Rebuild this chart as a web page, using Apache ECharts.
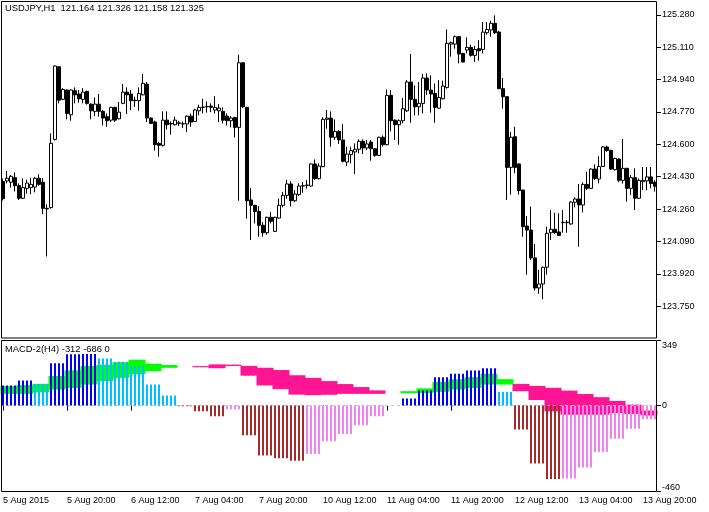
<!DOCTYPE html>
<html><head><meta charset="utf-8">
<script src="https://cdn.jsdelivr.net/npm/echarts@6/dist/echarts.min.js"></script>
<style>html,body{margin:0;padding:0;background:#fff}#c{width:709px;height:512px}</style>
</head><body><div id="c"></div>
<script>
const open=[
124.405,124.408,124.401,124.425,124.383,124.317,124.369,124.373,124.376,124.422,
124.401,124.264,124.268,124.626,125.007,124.836,124.885,124.755,124.881,124.864,
124.836,124.878,124.811,124.773,124.811,124.773,124.745,124.727,124.794,124.734,
124.815,124.874,124.864,124.832,124.829,124.860,124.916,124.738,124.717,124.605,
124.595,124.727,124.710,124.703,124.710,124.707,124.707,124.748,124.720,124.776,
124.794,124.797,124.801,124.780,124.776,124.773,124.748,124.724,124.741,124.689,
125.028,124.794,124.308,124.280,124.248,124.175,124.136,124.217,124.143,124.213,
124.280,124.332,124.392,124.304,124.336,124.381,124.385,124.381,124.497,124.420,
124.483,124.731,124.738,124.637,124.668,124.623,124.507,124.546,124.560,124.574,
124.616,124.581,124.612,124.577,124.542,124.637,124.598,124.857,124.727,124.703,
124.724,124.776,124.927,124.836,124.797,124.815,124.948,124.885,124.867,124.790,
124.839,124.899,125.126,125.126,125.165,125.077,125.095,125.109,125.067,125.102,
125.098,125.186,125.200,125.235,125.189,124.892,124.850,124.479,124.640,124.497,
124.360,124.171,124.150,124.004,123.846,123.867,123.955,124.136,124.154,124.140,
124.189,124.189,124.182,124.296,124.313,124.282,124.390,124.369,124.470,124.418,
124.484,124.586,124.568,124.467,124.523,124.411,124.474,124.369,124.425,124.317,
124.404,124.408,124.429,124.401];
const high=[
124.420,124.460,124.439,124.453,124.395,124.422,124.415,124.425,124.429,124.443,
124.422,124.285,124.657,125.014,125.010,124.895,124.888,124.888,124.899,124.885,
124.895,124.881,124.815,124.846,124.864,124.780,124.762,124.797,124.797,124.822,
124.916,124.899,124.885,124.850,124.899,124.969,124.927,124.741,124.724,124.612,
124.773,124.773,124.720,124.745,124.724,124.720,124.752,124.762,124.787,124.808,
124.839,124.825,124.815,124.853,124.811,124.794,124.762,124.748,124.745,125.070,
125.031,124.797,124.371,124.282,124.276,124.192,124.220,124.245,124.220,124.315,
124.350,124.413,124.406,124.360,124.395,124.402,124.413,124.500,124.521,124.500,
124.742,124.780,124.773,124.731,124.675,124.707,124.588,124.588,124.605,124.626,
124.626,124.623,124.623,124.580,124.640,124.647,124.888,124.885,124.730,124.731,
124.843,124.937,125.074,124.909,124.927,124.969,124.972,124.962,124.920,124.937,
124.934,125.203,125.140,125.172,125.168,125.080,125.161,125.123,125.116,125.147,
125.242,125.242,125.249,125.277,125.196,124.948,124.852,124.665,124.692,124.500,
124.362,124.224,124.273,124.077,123.941,123.958,124.168,124.255,124.241,124.238,
124.255,124.203,124.301,124.322,124.392,124.400,124.456,124.474,124.495,124.537,
124.590,124.593,124.572,124.530,124.526,124.628,124.477,124.439,124.474,124.421,
124.481,124.481,124.481,124.411];
const low=[
124.305,124.395,124.373,124.352,124.308,124.313,124.341,124.338,124.348,124.383,
124.233,124.011,124.262,124.620,124.815,124.832,124.731,124.724,124.815,124.818,
124.815,124.808,124.731,124.748,124.745,124.699,124.692,124.717,124.717,124.731,
124.811,124.759,124.780,124.797,124.776,124.857,124.717,124.707,124.567,124.535,
124.588,124.678,124.651,124.699,124.696,124.685,124.664,124.692,124.717,124.752,
124.762,124.766,124.769,124.762,124.717,124.710,124.699,124.689,124.636,124.304,
124.790,124.210,124.098,124.185,124.115,124.115,124.126,124.185,124.140,124.210,
124.269,124.315,124.273,124.297,124.329,124.346,124.367,124.378,124.413,124.416,
124.480,124.682,124.588,124.623,124.602,124.505,124.486,124.500,124.444,124.553,
124.549,124.570,124.514,124.535,124.539,124.588,124.595,124.668,124.623,124.598,
124.710,124.769,124.713,124.752,124.752,124.762,124.860,124.766,124.713,124.787,
124.836,124.892,125.060,125.102,125.025,125.030,125.077,125.060,125.032,125.039,
125.077,125.175,125.165,125.179,124.892,124.787,124.308,124.336,124.448,124.336,
124.115,123.916,123.993,123.832,123.815,123.787,123.916,124.098,124.129,124.119,
124.136,124.136,124.178,124.269,124.063,124.243,124.360,124.366,124.413,124.395,
124.481,124.561,124.467,124.463,124.401,124.394,124.299,124.334,124.255,124.313,
124.360,124.359,124.369,124.352];
const close=[
124.315,124.422,124.432,124.383,124.317,124.373,124.397,124.390,124.422,124.390,
124.264,124.261,124.605,125.011,124.832,124.888,124.762,124.885,124.860,124.839,
124.874,124.815,124.776,124.811,124.773,124.738,124.724,124.794,124.727,124.769,
124.874,124.860,124.829,124.829,124.867,124.920,124.738,124.710,124.598,124.595,
124.727,124.703,124.707,124.727,124.713,124.708,124.748,124.717,124.780,124.794,
124.796,124.799,124.794,124.794,124.790,124.727,124.724,124.738,124.689,125.028,
124.797,124.304,124.280,124.248,124.175,124.136,124.217,124.196,124.217,124.280,
124.332,124.392,124.304,124.339,124.381,124.383,124.386,124.497,124.420,124.486,
124.731,124.738,124.637,124.668,124.623,124.511,124.549,124.567,124.574,124.616,
124.581,124.602,124.577,124.542,124.637,124.598,124.857,124.724,124.703,124.724,
124.787,124.927,124.836,124.797,124.815,124.948,124.885,124.864,124.794,124.846,
124.906,125.130,125.133,125.165,125.074,125.032,125.109,125.067,125.098,125.091,
125.189,125.203,125.235,125.186,124.892,124.850,124.479,124.637,124.479,124.357,
124.168,124.150,124.004,123.846,123.867,123.955,124.133,124.154,124.136,124.122,
124.191,124.191,124.297,124.313,124.282,124.390,124.369,124.470,124.421,124.484,
124.586,124.568,124.470,124.526,124.411,124.474,124.369,124.425,124.317,124.411,
124.411,124.429,124.394,124.380];

// H4 values of the MACD indicator (each covers 4 H1 bars)
const histH4=[107,134,116,226,274,276,252,234,211,113,54,-4,-30,-57,-20,-159,-266,-281,-295,-259,
-191,-152,-105,-57,0,38,81,152,170,188,199,73,-127,-309,-392,-390,-331,-248,-177,-123,-73];
const macdH4=[104,109,116,158,188,211,217,231,245,224,217,null,205,200,212,160,108,88,59,56,
58,63,63,63,null,77,92,127,140,152,170,141,77,30,-30,-48,-48,-48,-40,-45,-52];
const signalH4=[63,63,72,86,95,113,131,149,168,184,202,null,211,220,219,212,202,190,162,148,
131,115,99,81,null,66,68,74,86,95,113,113,116,105,95,80,62,45,25,5,-27];

const priceTicks=[123.75,123.92,124.09,124.26,124.43,124.60,124.77,124.94,125.11,125.28];
const macdTicks=[349,0,-460];
const timeLabels=['5 Aug 2015','5 Aug 20:00','6 Aug 12:00','7 Aug 04:00','7 Aug 20:00','10 Aug 12:00','11 Aug 04:00','11 Aug 20:00','12 Aug 12:00','13 Aug 04:00','13 Aug 20:00'];
const mainTitle='USDJPY,H1  121.164 121.326 121.158 121.325';
const subTitle='MACD-2(H4) -312 -686 0';

const N=open.length;
const cats=open.map((_,i)=>String(i));
const candles=open.map((o,i)=>[o,close[i],low[i],high[i]]);
function perBar(a){const r=[];a.forEach(v=>{for(let k=0;k<4;k++)r.push(v);});return r.slice(0,N);}
const hist=perBar(histH4), macd=perBar(macdH4), signal=perBar(signalH4);
const C={blue:'#0000ff',sky:'#00bfff',brown:'#a52a2a',violet:'#ee82ee',lime:'#00ff00',pink:'#ff1493'};
const histData=hist.map((v,i)=>{
  const prev=i>=4?hist[i-4]:-Infinity;
  let col;
  if(v>=0) col=v>=prev?C.blue:C.sky; else col=v<prev?C.brown:C.violet;
  return {value:v,itemStyle:{color:col}};
});
const greenBand=macd.map((m,i)=>(m!=null&&m>signal[i])?[signal[i],m,signal[i],m]:'-');
const pinkBand=macd.map((m,i)=>(m!=null&&m<=signal[i])?[m,signal[i],m,signal[i]]:'-');

const FONT='Liberation Sans';
const txt={fontSize:9,color:'#000',fontFamily:FONT};
const ttl={fontSize:9.4,color:'#000',fontFamily:FONT,fontWeight:'normal'};
const chart=echarts.init(document.getElementById('c'),null,{renderer:'canvas'});
chart.setOption({
  animation:false,
  backgroundColor:'#fff',
  textStyle:{fontFamily:FONT},
  title:[
    {text:mainTitle,left:5,top:4,padding:0,textStyle:ttl},
    {text:subTitle,left:5,top:344.5,padding:0,textStyle:ttl}
  ],
  grid:[
    {left:1,top:2,width:656,height:336.3},
    {left:1,top:340.3,width:656,height:151.4}
  ],
  xAxis:[
    {type:'category',gridIndex:0,data:cats,show:false},
    {type:'category',gridIndex:1,data:cats,
     axisLine:{show:false},
     axisTick:{show:true,interval:15,alignWithLabel:true,length:5,lineStyle:{color:'#000'}},
     axisLabel:Object.assign({interval:15,align:'left',margin:4,
       formatter:(v,idx)=>idx%16===0?timeLabels[idx/16]:''},txt)}
  ],
  yAxis:[
    {type:'value',gridIndex:0,position:'right',min:123.582,max:125.347,
     splitLine:{show:false},axisLine:{show:false},
     axisTick:{show:true,length:4,customValues:priceTicks,lineStyle:{color:'#000'}},
     axisLabel:Object.assign({customValues:priceTicks,margin:5,formatter:v=>v.toFixed(3)},txt)},
    {type:'value',gridIndex:1,position:'right',min:-460,max:349,
     splitLine:{show:false},axisLine:{show:false},
     axisTick:{show:true,length:4,customValues:macdTicks,lineStyle:{color:'#000'}},
     axisLabel:Object.assign({customValues:macdTicks,margin:5,
       formatter:v=>v===349?'{t|349}':(v===-460?'{b|-460}':String(v)),
       rich:{t:Object.assign({padding:[10,0,0,0]},txt),b:Object.assign({padding:[0,0,9,0]},txt)}},txt)}
  ],
  graphic:[
    {type:'rect',silent:true,z:100,shape:{x:1.5,y:1.5,width:655,height:336.5},style:{fill:null,stroke:'#000',lineWidth:1}},
    {type:'rect',silent:true,z:100,shape:{x:1.5,y:340.5,width:655,height:151},style:{fill:null,stroke:'#000',lineWidth:1}}
  ],
  series:[
    {type:'candlestick',xAxisIndex:0,yAxisIndex:0,data:candles,barWidth:3,
     itemStyle:{color:'#fff',color0:'#000',borderColor:'#000',borderColor0:'#000',borderColorDoji:'#000',borderWidth:1}},
    {type:'candlestick',xAxisIndex:1,yAxisIndex:1,data:greenBand,barWidth:5,z:1,
     itemStyle:{color:C.lime,color0:C.lime,borderColor:C.lime,borderColor0:C.lime,borderWidth:0}},
    {type:'candlestick',xAxisIndex:1,yAxisIndex:1,data:pinkBand,barWidth:5,z:1,
     itemStyle:{color:C.pink,color0:C.pink,borderColor:C.pink,borderColor0:C.pink,borderWidth:0}},
    {type:'bar',xAxisIndex:1,yAxisIndex:1,data:histData,barWidth:2,z:3,
     markLine:{silent:true,symbol:'none',label:{show:false},z:2,
       lineStyle:{color:'#c0c0c0',type:[3,3],width:1},data:[{yAxis:0}]}}
  ]
});
</script></body></html>
